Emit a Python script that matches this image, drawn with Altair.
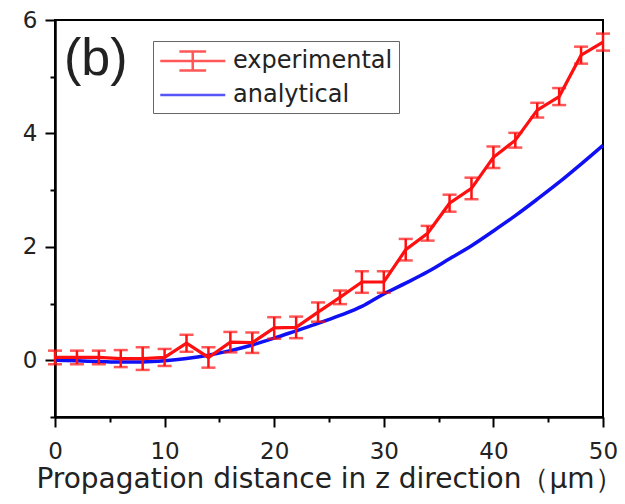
import altair as alt
import pandas as pd

# ---- data ----
z_exp = [0, 2, 4, 6, 8, 10, 12, 14, 16, 18, 20, 22, 24, 26, 28, 30, 32, 34, 36, 38, 40, 42, 44, 46, 48, 50]
y_exp = [0.05, 0.05, 0.05, 0.03, 0.03, 0.05, 0.30, 0.05, 0.32, 0.31, 0.57, 0.58, 0.85, 1.11, 1.38, 1.38,
         1.95, 2.24, 2.77, 3.03, 3.58, 3.88, 4.41, 4.65, 5.38, 5.61]
err_exp = [0.12, 0.12, 0.12, 0.15, 0.20, 0.15, 0.15, 0.18, 0.18, 0.18, 0.19, 0.19, 0.17, 0.12, 0.19, 0.19,
           0.19, 0.13, 0.15, 0.19, 0.19, 0.13, 0.13, 0.15, 0.15, 0.15]

z_ana = [0, 2, 4, 6, 8, 10, 12, 14, 16, 18, 20, 22, 24, 26, 28, 30, 32, 34, 36, 38, 40, 42, 44, 46, 48, 50]
y_ana = [0.00, -0.01, -0.02, -0.03, -0.03, -0.01, 0.03, 0.09, 0.17, 0.27, 0.39, 0.52, 0.65, 0.79, 0.95, 1.17,
         1.36, 1.56, 1.79, 2.02, 2.28, 2.55, 2.84, 3.14, 3.46, 3.79]

series = ["experimental", "analytical"]
panel_label = ["(b)"]
x_ticks = [0, 5, 10, 15, 20, 25, 30, 35, 40, 45, 50]
y_major = [0, 2, 4, 6]
y_minor = [-1, 1, 3, 5]

RED = "#ff1010"
BLUE = "#1010f5"
FONT = "DejaVu Sans"

exp_df = pd.DataFrame({
    "z": z_exp,
    "v": y_exp,
    "lo": [a - b for a, b in zip(y_exp, err_exp)],
    "hi": [a + b for a, b in zip(y_exp, err_exp)],
})
ana_df = pd.DataFrame({"z": z_ana, "v": y_ana})
leg_df = pd.DataFrame({"series": series, "z": [None, None], "v": [None, None]})
lab_df = pd.DataFrame({"txt": panel_label})

xscale = alt.Scale(domain=[0, 50], nice=False, zero=False)
yscale = alt.Scale(domain=[-1, 6], nice=False, zero=False)

xaxis = alt.Axis(
    values=x_ticks,
    format="d",
    labelExpr="datum.value % 10 === 0 ? datum.label : ''",
    tickSize={"condition": {"test": "datum.value % 10 === 0", "value": 10}, "value": 5},
    title="Propagation distance in z direction（μm）",
    grid=False,
    labelPadding=13,
    titlePadding=2,
    labelFlush=False,
)
yaxis_major = alt.Axis(
    values=y_major,
    format="d",
    orient="left",
    tickSize=10,
    title=None,
    grid=False,
    labelPadding=8,
    labelFlush=False,
)
yaxis_minor = alt.Axis(
    values=y_minor,
    orient="left",
    tickSize=5,
    labels=False,
    domain=False,
    title=None,
    grid=False,
)

PATH_EXP = "M-1,0H4.1M0.5,-0.75H2.6M0.5,0.75H2.6M1.55,-0.75V0.75"
PATH_ANA = "M-1,0H4.1"

legend = alt.Legend(
    title=None,
    orient="none",
    legendX=98,
    legendY=21,
    padding=6,
    strokeColor="#666666",
    symbolSize=650,
    symbolStrokeWidth=2.5,
    labelFont=FONT,
    labelFontSize=24,
    labelColor="#222222",
    labelOffset=46,
    rowPadding=5,
)

ana_line = alt.Chart(ana_df).mark_line(color=BLUE, strokeWidth=3.5, interpolate="monotone").encode(
    x=alt.X("z:Q", scale=xscale, axis=xaxis),
    y=alt.Y("v:Q", scale=yscale, axis=yaxis_minor),
)
exp_line = alt.Chart(exp_df).mark_line(color=RED, strokeWidth=3.2).encode(
    x=alt.X("z:Q", scale=xscale, axis=xaxis),
    y=alt.Y("v:Q", scale=yscale, axis=yaxis_major),
)
exp_bars = alt.Chart(exp_df).mark_rule(color=RED, strokeWidth=2.5).encode(
    x=alt.X("z:Q", axis=xaxis), y=alt.Y("lo:Q", axis=None), y2="hi:Q"
)
cap_lo = alt.Chart(exp_df).mark_tick(color=RED, orient="horizontal", size=14, thickness=2.5).encode(
    x=alt.X("z:Q", axis=xaxis), y=alt.Y("lo:Q", axis=None)
)
cap_hi = alt.Chart(exp_df).mark_tick(color=RED, orient="horizontal", size=14, thickness=2.5).encode(
    x=alt.X("z:Q", axis=xaxis), y=alt.Y("hi:Q", axis=None)
)
leg_layer = alt.Chart(leg_df).mark_point(filled=False, strokeWidth=2.5).encode(
    x=alt.X("z:Q", axis=xaxis),
    y=alt.Y("v:Q", axis=None),
    color=alt.Color("series:N", scale=alt.Scale(domain=series, range=[RED, BLUE]), legend=legend),
    shape=alt.Shape("series:N", scale=alt.Scale(domain=series, range=[PATH_EXP, PATH_ANA]), legend=legend),
)
panel = alt.Chart(lab_df).mark_text(
    font="Liberation Sans", fontSize=52, color="#222222", align="left", baseline="alphabetic"
).encode(
    text="txt:N", x=alt.value(9), y=alt.value(55)
)

chart = alt.layer(ana_line, exp_line, exp_bars, cap_lo, cap_hi, leg_layer, panel).resolve_axis(
    y="independent"
).properties(
    width=548,
    height=397,
    autosize="none",
    padding={"left": 47, "top": 12, "right": 14, "bottom": 79},
    background="white",
).configure_view(
    stroke="black", strokeWidth=2
).configure_axis(
    domainColor="black", domainWidth=2.5, tickColor="black", tickWidth=2,
    labelFont=FONT, labelFontSize=23, labelColor="#222222",
    titleFont=FONT, titleFontSize=28, titleColor="#222222", titleFontWeight="normal",
)

chart.save("out.html", embed_options={"renderer": "svg", "actions": False})
